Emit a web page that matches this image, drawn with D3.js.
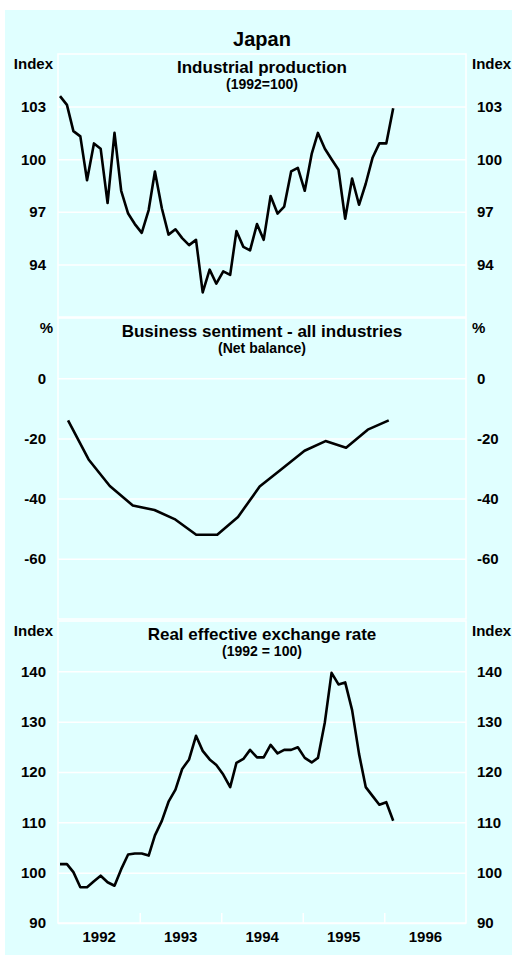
<!DOCTYPE html>
<html lang="en"><head><meta charset="utf-8">
<script src="https://d3js.org/d3.v7.min.js"></script>
<style>
body {
    margin: 0;
    background: #fff;
    font-family: Arial, "Liberation Sans", sans-serif;
}
svg text {
    font-weight: bold;
    fill: #000;
}
.grid line {
    stroke: #fff;
    stroke-width: 1.5;
}
</style>
</head><body>
<div id="chart"></div>
<script>
// monthly observations, Jan 1992 - Feb 1996
var months = d3.timeMonth.range(new Date(1992, 0, 1), new Date(1996, 2, 1))
    .map(d => new Date(d.getFullYear(), d.getMonth(), 10));

var industrialProduction = [
    103.6, 103.1, 101.6, 101.3, 98.8, 100.9, 100.6, 97.5, 101.5, 98.2,
    96.9, 96.3, 95.8, 97.1, 99.3, 97.2, 95.7, 96.0, 95.5, 95.1,
    95.4, 92.4, 93.7, 92.9, 93.6, 93.4, 95.9, 95.0, 94.8, 96.3,
    95.4, 97.9, 96.9, 97.3, 99.3, 99.5, 98.2, 100.3, 101.5, 100.6,
    100.0, 99.4, 96.6, 98.9, 97.4, 98.6, 100.1, 100.9, 100.9, 102.9
];

var sentimentDates = [
    "1992-02-15", "1992-05-17", "1992-08-20", "1992-12-01", "1993-03-08", "1993-06-06",
    "1993-09-11", "1993-12-14", "1994-03-17", "1994-06-22", "1994-09-26", "1995-01-09",
    "1995-04-13", "1995-07-14", "1995-10-19", "1996-01-21"
];
var businessSentiment = [
    -14, -27, -35.8, -42.3, -43.8, -46.8, -52, -52,
    -46.1, -36, -30.3, -24.1, -20.9, -23.1, -17.1, -14
];

var exchangeRate = [
    101.7, 101.7, 100.1, 97.1, 97.1, 98.3, 99.4, 98.1, 97.4, 100.7,
    103.6, 103.8, 103.8, 103.4, 107.4, 110.3, 114.1, 116.5, 120.6, 122.5,
    127.2, 124.2, 122.5, 121.4, 119.5, 117.0, 121.8, 122.6, 124.4, 122.9,
    122.9, 125.4, 123.7, 124.4, 124.4, 124.9, 122.8, 121.9, 122.8, 129.9,
    139.7, 137.4, 137.8, 132.3, 123.6, 117.0, 115.2, 113.5, 114.0, 110.3
];

var years = [1992, 1993, 1994, 1995, 1996];
var ipTicks = [94, 97, 100, 103];
var bsTicks = [-60, -40, -20, 0];
var reerTicks = [90, 100, 110, 120, 130, 140];

var W = 512, H = 955;
var left = 58, right = 466;

var svg = d3.select("#chart").append("svg")
    .attr("width", W)
    .attr("height", H);

svg.append("rect")
    .attr("x", 5).attr("y", 10)
    .attr("width", W - 5).attr("height", H - 10)
    .attr("fill", "#e0ffff");

svg.append("text")
    .attr("x", (left + right) / 2).attr("y", 46)
    .attr("text-anchor", "middle")
    .style("font-size", "20px")
    .text("Japan");

var x = d3.scaleTime()
    .domain([new Date(1992, 0, 1), new Date(1997, 0, 1)])
    .range([left, right]);

// plain hyphen for negatives, as on the original
var fmt = d => String(d);

function panel(opts) {
    var y = d3.scaleLinear()
        .domain(opts.domain)
        .range([opts.bottom, opts.top]);

    var g = svg.append("g");

    // gridlines
    g.append("g")
        .attr("class", "grid")
        .attr("transform", `translate(${left},0)`)
        .call(d3.axisRight(y).tickValues(opts.ticks).tickSize(right - left).tickFormat(""))
        .call(g => g.select(".domain").remove());

    g.append("rect")
        .attr("x", left).attr("y", opts.top)
        .attr("width", right - left).attr("height", opts.bottom - opts.top)
        .attr("fill", "none")
        .attr("stroke", "#fff")
        .attr("stroke-width", 1.5);

    // tick labels on both sides
    g.append("g")
        .attr("transform", `translate(${left},0)`)
        .call(d3.axisLeft(y).tickValues(opts.ticks).tickSize(0).tickPadding(12).tickFormat(fmt))
        .call(g => g.select(".domain").remove())
        .selectAll("text").style("font-size", "15px").attr("font-family", null);

    g.append("g")
        .attr("transform", `translate(${right},0)`)
        .call(d3.axisRight(y).tickValues(opts.ticks).tickSize(0).tickPadding(11).tickFormat(fmt))
        .call(g => g.select(".domain").remove())
        .selectAll("text").style("font-size", "15px").attr("font-family", null);

    g.append("text")
        .attr("x", 53).attr("y", opts.top + 15)
        .attr("text-anchor", "end")
        .style("font-size", "15px")
        .text(opts.unit);
    g.append("text")
        .attr("x", 472).attr("y", opts.top + 15)
        .style("font-size", "15px")
        .text(opts.unit);

    g.append("text")
        .attr("x", (left + right) / 2).attr("y", opts.top + 19)
        .attr("text-anchor", "middle")
        .style("font-size", "17px")
        .text(opts.title);
    g.append("text")
        .attr("x", (left + right) / 2).attr("y", opts.top + 35)
        .attr("text-anchor", "middle")
        .style("font-size", "14px")
        .text(opts.subtitle);

    var line = d3.line()
        .x(d => x(d[0]))
        .y(d => y(d[1]));

    g.append("path")
        .datum(d3.zip(opts.dates, opts.values))
        .attr("fill", "none")
        .attr("stroke", "#000")
        .attr("stroke-width", 2.6)
        .attr("stroke-linejoin", "round")
        .attr("d", line);

    return g;
}

panel({
    top: 54, bottom: 317, domain: [91, 106], ticks: ipTicks,
    unit: "Index", title: "Industrial production", subtitle: "(1992=100)",
    dates: months, values: industrialProduction
});

panel({
    top: 318, bottom: 619, domain: [-80, 20], ticks: bsTicks,
    unit: "%", title: "Business sentiment - all industries", subtitle: "(Net balance)",
    dates: sentimentDates.map(d3.timeParse("%Y-%m-%d")), values: businessSentiment
});

panel({
    top: 621, bottom: 923, domain: [90, 150], ticks: reerTicks,
    unit: "Index", title: "Real effective exchange rate", subtitle: "(1992 = 100)",
    dates: months, values: exchangeRate
});

// year ticks along the bottom
svg.append("g")
    .attr("class", "grid")
    .attr("transform", "translate(0,923)")
    .call(d3.axisBottom(x).tickValues(years.slice(1).map(y => new Date(y, 0, 1))).tickSize(-10).tickFormat(""))
    .call(g => g.select(".domain").remove());

svg.append("g")
    .attr("transform", "translate(0,923)")
    .call(d3.axisBottom(x).tickValues(years.map(y => new Date(y, 6, 1))).tickSize(0).tickPadding(8)
        .tickFormat(d3.timeFormat("%Y")))
    .call(g => g.select(".domain").remove())
    .selectAll("text").style("font-size", "15px").attr("font-family", null);
</script>
</body></html>
